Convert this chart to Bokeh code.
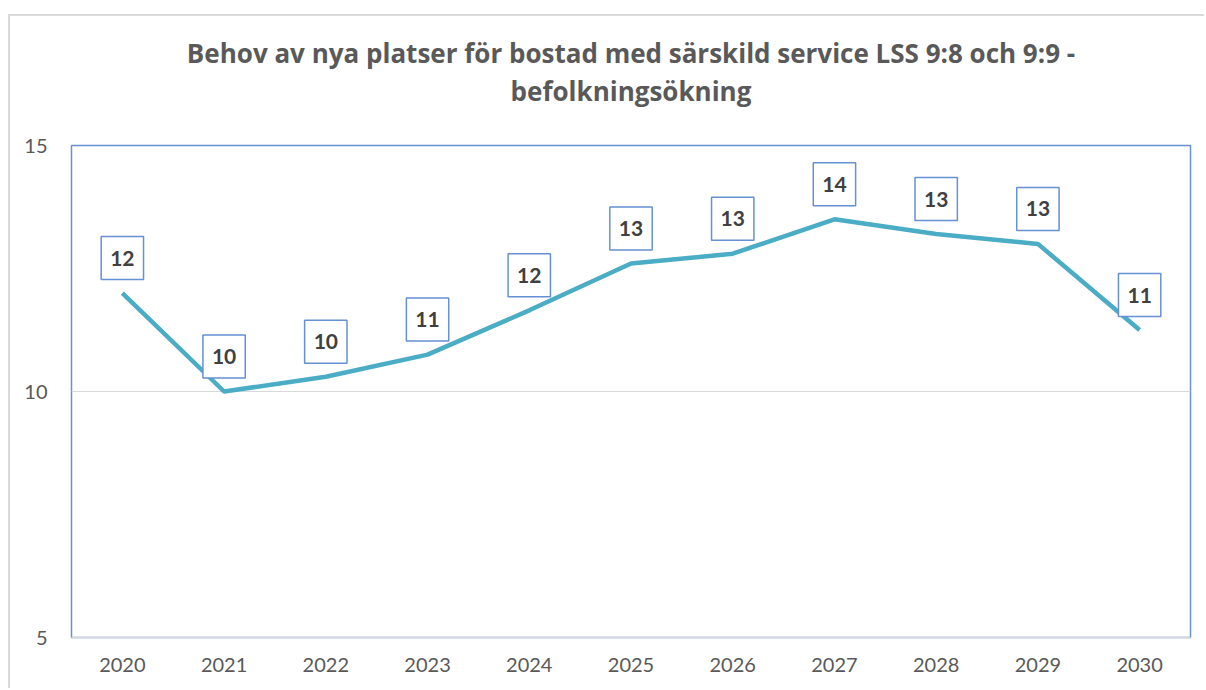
from bokeh.plotting import figure
from bokeh.models import ColumnDataSource, Label, FixedTicker, Title, Range1d
from bokeh.embed import file_html
from bokeh.resources import INLINE

years = ["2020", "2021", "2022", "2023", "2024", "2025", "2026", "2027", "2028", "2029", "2030"]
values = [12.0, 10.0, 10.3, 10.75, 11.65, 12.6, 12.8, 13.5, 13.2, 13.0, 11.25]
labels = ["12", "10", "10", "11", "12", "13", "13", "14", "13", "13", "11"]
title_line1 = "Behov av nya platser för bostad med särskild service LSS 9:8 och 9:9 -"
title_line2 = "befolkningsökning"
y_ticks = [5, 10, 15]

idx = list(range(len(years)))
src = ColumnDataSource(dict(i=idx, val=values, lab=labels))

BLUE = "#6690D4"
GRAY_TXT = "#595959"

p = figure(width=1196, height=674, x_range=Range1d(-0.5, len(years) - 0.5), y_range=Range1d(5, 15),
           output_backend="svg", toolbar_location=None,
           min_border_left=61, min_border_right=16, min_border_bottom=53, min_border_top=20)
p.styles = {"margin-left": "8px", "margin-top": "14px",
            "border-left": "2px solid #d9d9d9", "border-top": "2px solid #d9d9d9"}

TFONT = dict(text_font="Open Sans", text_font_size="26px", text_font_style="bold",
             text_color=GRAY_TXT, text_line_height=0.77)
# spacer below line 2
p.add_layout(Title(text=" ", text_font_size="2px", standoff=33), "above")
p.add_layout(Title(text=title_line2, align="center", standoff=0, **TFONT), "above")
p.add_layout(Title(text=title_line1, align="center", standoff=0, **TFONT), "above")
# spacer above line 1
p.add_layout(Title(text=" ", text_font_size="2px", standoff=12), "above")

p.line("i", "val", source=src, line_color="#4BACC6", line_width=4.5)

for i, v, t in zip(idx, values, labels):
    p.add_layout(Label(x=i, y=v, text=t, y_offset=35,
                       text_align="center", text_baseline="middle",
                       text_font="Lato", text_font_size="21px", text_font_style="bold",
                       text_color="#404040",
                       background_fill_color="white", border_line_color=BLUE,
                       border_line_width=1.5, padding=dict(left=9, right=9, top=14, bottom=14)))

p.outline_line_color = BLUE
p.outline_line_width = 1.5
p.xgrid.grid_line_color = None
p.ygrid.grid_line_color = "#d9d9d9"
p.ygrid.ticker = FixedTicker(ticks=y_ticks)
p.yaxis.ticker = FixedTicker(ticks=y_ticks)
p.xaxis.ticker = FixedTicker(ticks=idx)
p.xaxis.major_label_overrides = {i: y for i, y in zip(idx, years)}
p.yaxis.axis_line_color = None
p.yaxis.major_tick_line_color = None
p.yaxis.minor_tick_line_color = None
p.yaxis.major_label_standoff = 18
p.xaxis.axis_line_color = "#d9d9d9"
p.xaxis.axis_line_width = 1.5
p.xaxis.major_tick_line_color = None
p.xaxis.minor_tick_line_color = None
p.xaxis.major_label_standoff = 14
for ax in (p.xaxis, p.yaxis):
    ax.major_label_text_font = "Lato"
    ax.major_label_text_font_size = "20px"
    ax.major_label_text_color = GRAY_TXT
p.background_fill_color = "white"
p.border_fill_color = "white"

open("out.html", "w").write(file_html(p, INLINE))
